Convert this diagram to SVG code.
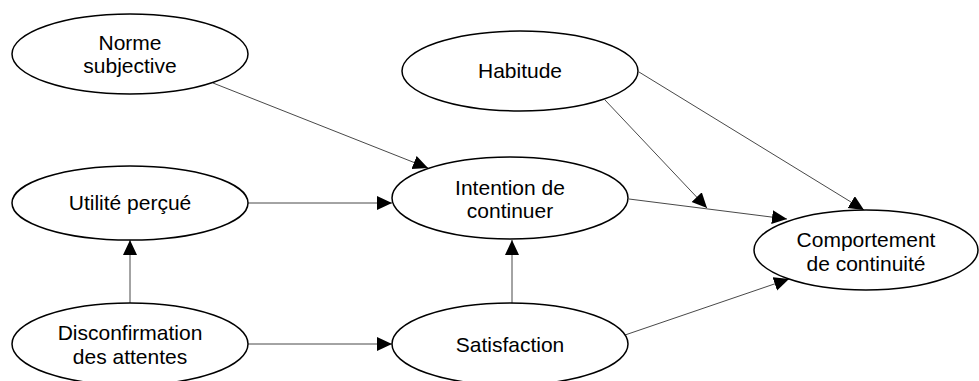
<svg xmlns="http://www.w3.org/2000/svg" width="979" height="381" viewBox="0 0 979 381">
<style>
.node ellipse{fill:#fff;stroke:#000;stroke-width:1.5}
.node text{font-family:"Liberation Sans",Arial,sans-serif;font-size:21px;fill:#000;text-anchor:middle}
.edges line{stroke:#333;stroke-width:0.9;marker-end:url(#ah)}
</style>
<defs>
<marker id="ah" markerUnits="userSpaceOnUse" markerWidth="16" markerHeight="15" refX="15" refY="7" orient="auto">
<path d="M0,0 L15,7 L0,14 z" fill="#000"/>
</marker>
</defs>
<rect width="979" height="381" fill="#fff"/>
<g class="edges">
<line x1="213" y1="83" x2="428" y2="168"/>
<line x1="248" y1="203" x2="392" y2="203"/>
<line x1="130" y1="303" x2="130" y2="240"/>
<line x1="248" y1="344" x2="392" y2="344"/>
<line x1="512" y1="303" x2="512" y2="240"/>
<line x1="629" y1="199" x2="787" y2="219"/>
<line x1="605" y1="100" x2="707" y2="208"/>
<line x1="639" y1="72" x2="864" y2="210"/>
<line x1="625" y1="335" x2="789" y2="279"/>
</g>
<g id="norme" class="node"><ellipse cx="130" cy="54" rx="118" ry="40"/><text x="130" y="50">Norme</text><text x="130" y="73">subjective</text></g>
<g id="habitude" class="node"><ellipse cx="520" cy="71" rx="118" ry="40"/><text x="520" y="78">Habitude</text></g>
<g id="utilite" class="node"><ellipse cx="130" cy="203" rx="118" ry="37"/><text x="130" y="210">Utilité perçué</text></g>
<g id="intention" class="node"><ellipse cx="510" cy="198" rx="118" ry="41"/><text x="510" y="195">Intention de</text><text x="510" y="218">continuer</text></g>
<g id="comportement" class="node"><ellipse cx="866" cy="250" rx="112" ry="40"/><text x="866" y="247">Comportement</text><text x="866" y="271">de continuité</text></g>
<g id="disconfirmation" class="node"><ellipse cx="130" cy="344" rx="118" ry="41"/><text x="130" y="340">Disconfirmation</text><text x="130" y="364">des attentes</text></g>
<g id="satisfaction" class="node"><ellipse cx="510" cy="344" rx="118" ry="41"/><text x="510" y="352">Satisfaction</text></g>
</svg>
